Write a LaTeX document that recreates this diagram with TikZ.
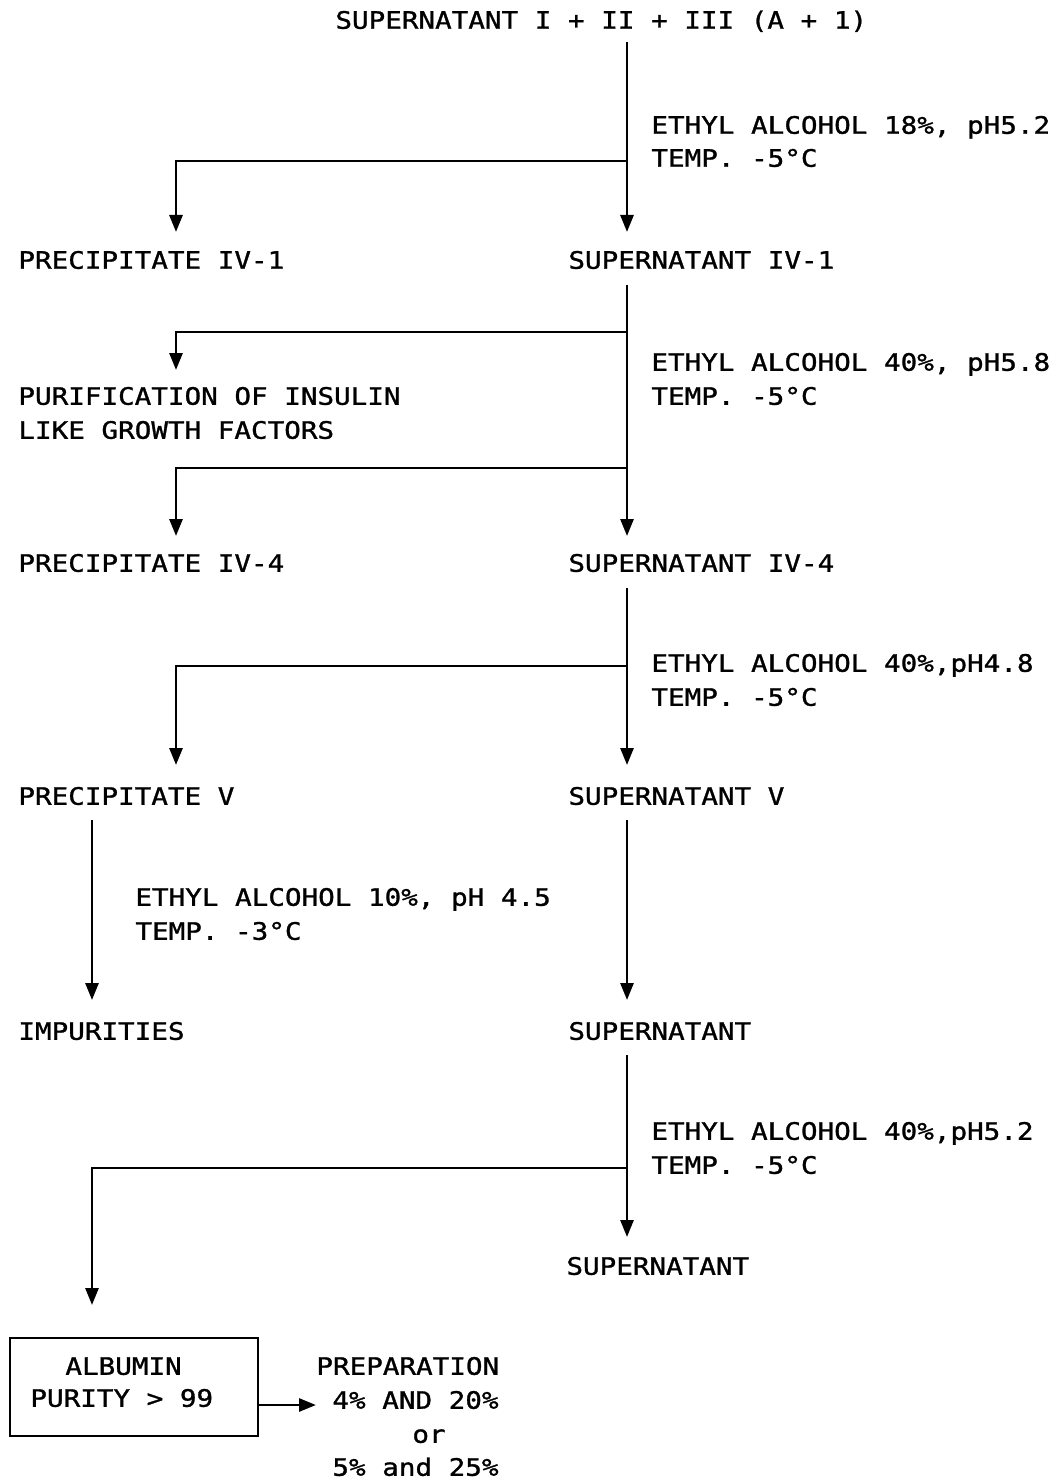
\documentclass[tikz,border=0pt]{standalone}
\usepackage{fontspec}
\usetikzlibrary{arrows.meta}
\newfontfamily\plotfont[FakeStretch=1.15,FakeBold=1.2]{DejaVu Sans Mono}
\begin{document}
\begin{tikzpicture}[x=0.5pt,y=-0.5pt,
  lbl/.style={inner sep=0pt,anchor=west,text height=8.75pt,text depth=0pt,
    font=\plotfont\fontsize{12pt}{12pt}\selectfont},
  flow/.style={line width=1.4pt,-{Triangle[length=8.5pt,width=6.5pt]}},
  wire/.style={line width=1.4pt}]
\useasboundingbox (0,0) rectangle (1059,1481);

% --- text of the stages
\node[lbl] (top) at (335,20) {SUPERNATANT I + II + III (A + 1)};
\node[lbl] (c1a) at (651,125) {ETHYL ALCOHOL 18\%, pH5.2};
\node[lbl] (c1b) at (651,158) {TEMP. -5°C};
\node[lbl] (p1) at (18,260) {PRECIPITATE IV-1};
\node[lbl] (s1) at (568,260) {SUPERNATANT IV-1};
\node[lbl] (c2a) at (651,362) {ETHYL ALCOHOL 40\%, pH5.8};
\node[lbl] (c2b) at (651,396) {TEMP. -5°C};
\node[lbl] (ins1) at (18,396) {PURIFICATION OF INSULIN};
\node[lbl] (ins2) at (18,430) {LIKE GROWTH FACTORS};
\node[lbl] (p2) at (18,563) {PRECIPITATE IV-4};
\node[lbl] (s2) at (568,563) {SUPERNATANT IV-4};
\node[lbl] (c3a) at (651,663) {ETHYL ALCOHOL 40\%,pH4.8};
\node[lbl] (c3b) at (651,697) {TEMP. -5°C};
\node[lbl] (p3) at (18,796) {PRECIPITATE V};
\node[lbl] (s3) at (568,796) {SUPERNATANT V};
\node[lbl] (c4a) at (135,897) {ETHYL ALCOHOL 10\%, pH 4.5};
\node[lbl] (c4b) at (135,931) {TEMP. -3°C};
\node[lbl] (imp) at (18,1031) {IMPURITIES};
\node[lbl] (s4) at (568,1031) {SUPERNATANT};
\node[lbl] (c5a) at (651,1131) {ETHYL ALCOHOL 40\%,pH5.2};
\node[lbl] (c5b) at (651,1165) {TEMP. -5°C};
\node[lbl] (s5) at (566,1266) {SUPERNATANT};

% --- final product box and preparations
\node[draw,line width=1.2pt,minimum width=124pt,minimum height=49pt,inner sep=0pt]
  (alb) at (134,1387) {};
\node[lbl] (alb1) at (65,1366) {ALBUMIN};
\node[lbl] (alb2) at (30,1398) {PURITY > 99};
\node[lbl] (prep1) at (316,1366) {PREPARATION};
\node[lbl] (prep2) at (332,1400) {4\% AND 20\%};
\node[lbl] (prep3) at (412,1434) {or};
\node[lbl] (prep4) at (332,1467) {5\% and 25\%};

% --- junction and arrow-end points
\coordinate (a0) at (627,42);   \coordinate (j1) at (627,161);
\coordinate (a1) at (627,232);  \coordinate (b1) at (176,232);
\coordinate (a2) at (627,285);  \coordinate (j2) at (627,332);
\coordinate (j3) at (627,468);  \coordinate (b2) at (176,370);
\coordinate (b3) at (176,536);  \coordinate (a3) at (627,536);
\coordinate (a4) at (627,588);  \coordinate (j4) at (627,666);
\coordinate (a5) at (627,765);  \coordinate (b4) at (176,765);
\coordinate (l0) at (92,820);   \coordinate (l1) at (92,1000);
\coordinate (r0) at (627,820);  \coordinate (r1) at (627,1000);
\coordinate (a6) at (627,1055); \coordinate (j5) at (627,1168);
\coordinate (a7) at (627,1237); \coordinate (b5) at (92,1305);
\coordinate (e1) at (316,1405);

% --- connectors
\draw[flow] (a0) -- (a1);
\draw[flow] (j1) -| (b1);
\draw[flow] (a2) -- (a3);
\draw[flow] (j2) -| (b2);
\draw[flow] (j3) -| (b3);
\draw[flow] (a4) -- (a5);
\draw[flow] (j4) -| (b4);
\draw[flow] (l0) -- (l1);
\draw[flow] (r0) -- (r1);
\draw[flow] (a6) -- (a7);
\draw[flow] (j5) -| (b5);
\draw[flow] (alb.east |- e1) -- (e1);
\end{tikzpicture}
\end{document}
